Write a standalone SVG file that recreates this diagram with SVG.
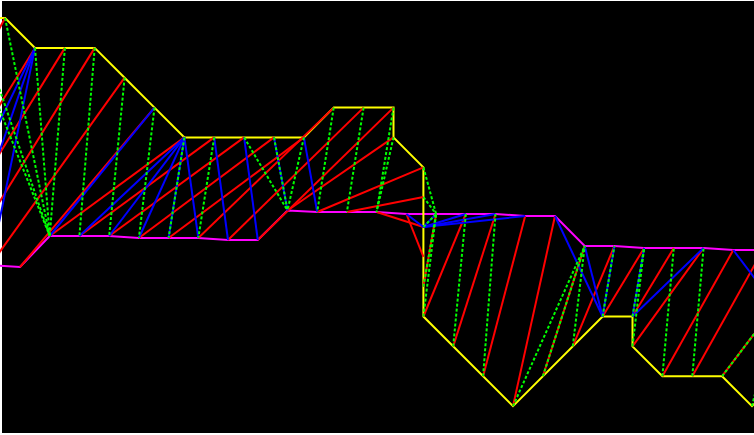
<svg xmlns="http://www.w3.org/2000/svg" width="754" height="435" viewBox="0 0 754 435">
<style>
.y{fill:none;stroke:#ffff00;stroke-width:2}
.m{fill:none;stroke:#ff00ff;stroke-width:2}
.r line{stroke:#ff0000;stroke-width:2}
.b line{stroke:#0000ff;stroke-width:2}
.g line{stroke:#00ff00;stroke-width:2;stroke-dasharray:3 2}
</style>
<rect x="0" y="0" width="754" height="435" fill="#ffffff"/>
<rect x="2" y="1" width="752" height="432" fill="#000000"/>
<g id="profile-lower"><polyline class="m" points="-39.4,265 -9.7,265 20,267 49.7,236 109.2,236 138.9,238 198.3,238 228,240 257.8,240 287.5,210.5 317.2,212 376.6,212 406.4,214 495.5,214 525.2,216 555,216 584.7,246 614.4,246 644.1,248 703.6,248 733.3,250 763,250"/></g>
<g id="profile-upper"><polyline class="y" points="-24.8,18 5.1,18 35,47.9 94.7,47.9 124.6,77.7 154.5,107.6 184.4,137.4 303.9,137.4 333.7,107.6 393.5,107.6 393.5,137.4 423.4,167.3 423.4,316.5 513,406.1 602.6,316.5 632.5,316.5 632.5,346.4 662.4,376.2 722.1,376.2 752,406.1 781.9,376"/></g>
<g id="connectors">
<g class="r">
<line x1="-128.6" y1="265" x2="5.1" y2="18"/>
<line x1="-98.9" y1="265" x2="35" y2="47.9"/>
<line x1="-69.2" y1="265" x2="64.9" y2="47.9"/>
<line x1="-39.4" y1="265" x2="94.7" y2="47.9"/>
<line x1="-9.7" y1="265" x2="124.6" y2="77.7"/>
<line x1="20" y1="267" x2="154.5" y2="107.6"/>
<line x1="49.7" y1="236" x2="184.4" y2="137.4"/>
<line x1="79.4" y1="236" x2="214.2" y2="137.4"/>
<line x1="109.2" y1="236" x2="244.1" y2="137.4"/>
<line x1="138.9" y1="238" x2="274" y2="137.4"/>
<line x1="168.6" y1="238" x2="303.9" y2="137.4"/>
<line x1="198.3" y1="238" x2="333.7" y2="107.6"/>
<line x1="228" y1="240" x2="363.6" y2="107.6"/>
<line x1="257.8" y1="240" x2="393.5" y2="107.6"/>
<line x1="287.5" y1="210.5" x2="393.5" y2="137.4"/>
<line x1="317.2" y1="212" x2="423.4" y2="167.3"/>
<line x1="346.9" y1="212" x2="423.4" y2="197.1"/>
<line x1="376.6" y1="212" x2="423.4" y2="227"/>
<line x1="406.4" y1="214" x2="423.4" y2="256.8"/>
<line x1="436.1" y1="214" x2="423.4" y2="286.7"/>
<line x1="465.8" y1="214" x2="423.4" y2="316.5"/>
<line x1="495.5" y1="214" x2="453.2" y2="346.4"/>
<line x1="525.2" y1="216" x2="483.1" y2="376.2"/>
<line x1="555" y1="216" x2="513" y2="406.1"/>
<line x1="584.7" y1="246" x2="542.9" y2="376.2"/>
<line x1="614.4" y1="246" x2="572.8" y2="346.4"/>
<line x1="644.1" y1="248" x2="602.6" y2="316.5"/>
<line x1="673.8" y1="248" x2="632.5" y2="316.5"/>
<line x1="703.6" y1="248" x2="632.5" y2="346.4"/>
<line x1="733.3" y1="250" x2="662.4" y2="376.2"/>
<line x1="763" y1="250" x2="692.3" y2="376.2"/>
<line x1="792.7" y1="283" x2="722.1" y2="376.2"/>
</g>
<g class="b">
<line x1="35" y1="47.9" x2="-69.2" y2="265"/>
<line x1="35" y1="47.9" x2="-39.4" y2="265"/>
<line x1="35" y1="47.9" x2="-9.7" y2="265"/>
<line x1="154.5" y1="107.6" x2="49.7" y2="236"/>
<line x1="184.4" y1="137.4" x2="79.4" y2="236"/>
<line x1="184.4" y1="137.4" x2="109.2" y2="236"/>
<line x1="184.4" y1="137.4" x2="138.9" y2="238"/>
<line x1="184.4" y1="137.4" x2="168.6" y2="238"/>
<line x1="184.4" y1="137.4" x2="198.3" y2="238"/>
<line x1="214.2" y1="137.4" x2="228" y2="240"/>
<line x1="244.1" y1="137.4" x2="257.8" y2="240"/>
<line x1="274" y1="137.4" x2="287.5" y2="210.5"/>
<line x1="303.9" y1="137.4" x2="317.2" y2="212"/>
<line x1="406.4" y1="214" x2="423.4" y2="227"/>
<line x1="423.4" y1="227" x2="436.1" y2="214"/>
<line x1="423.4" y1="227" x2="465.8" y2="214"/>
<line x1="423.4" y1="227" x2="495.5" y2="214"/>
<line x1="423.4" y1="227" x2="525.2" y2="216"/>
<line x1="555" y1="216" x2="602.6" y2="316.5"/>
<line x1="584.7" y1="246" x2="602.6" y2="316.5"/>
<line x1="614.4" y1="246" x2="602.6" y2="316.5"/>
<line x1="632.5" y1="316.5" x2="644.1" y2="248"/>
<line x1="632.5" y1="316.5" x2="703.6" y2="248"/>
<line x1="733.3" y1="250" x2="768" y2="296"/>
</g>
<g class="g">
<line x1="-24.8" y1="18" x2="49.7" y2="236"/>
<line x1="-24.8" y1="47.9" x2="49.7" y2="236"/>
<line x1="5.1" y1="18" x2="49.7" y2="236"/>
<line x1="35" y1="47.9" x2="49.7" y2="236"/>
<line x1="64.9" y1="47.9" x2="49.7" y2="236"/>
<line x1="94.7" y1="47.9" x2="79.4" y2="236"/>
<line x1="124.6" y1="77.7" x2="109.2" y2="236"/>
<line x1="154.5" y1="107.6" x2="138.9" y2="238"/>
<line x1="184.4" y1="137.4" x2="168.6" y2="238"/>
<line x1="214.2" y1="137.4" x2="198.3" y2="238"/>
<line x1="244.1" y1="137.4" x2="287.5" y2="210.5"/>
<line x1="274" y1="137.4" x2="287.5" y2="210.5"/>
<line x1="303.9" y1="137.4" x2="287.5" y2="210.5"/>
<line x1="333.7" y1="107.6" x2="317.2" y2="212"/>
<line x1="363.6" y1="107.6" x2="346.9" y2="212"/>
<line x1="393.5" y1="107.6" x2="376.6" y2="212"/>
<line x1="393.5" y1="137.4" x2="376.6" y2="212"/>
<line x1="423.4" y1="167.3" x2="436.1" y2="214"/>
<line x1="423.4" y1="197.1" x2="436.1" y2="214"/>
<line x1="423.4" y1="227" x2="436.1" y2="214"/>
<line x1="423.4" y1="286.7" x2="436.1" y2="214"/>
<line x1="423.4" y1="316.5" x2="436.1" y2="214"/>
<line x1="453.2" y1="346.4" x2="465.8" y2="214"/>
<line x1="483.1" y1="376.2" x2="495.5" y2="214"/>
<line x1="513" y1="406.1" x2="584.7" y2="246"/>
<line x1="542.9" y1="376.2" x2="584.7" y2="246"/>
<line x1="572.8" y1="346.4" x2="584.7" y2="246"/>
<line x1="602.6" y1="316.5" x2="614.4" y2="246"/>
<line x1="632.5" y1="316.5" x2="644.1" y2="248"/>
<line x1="632.5" y1="346.4" x2="644.1" y2="248"/>
<line x1="662.4" y1="376.2" x2="673.8" y2="248"/>
<line x1="692.3" y1="376.2" x2="703.6" y2="248"/>
<line x1="722.1" y1="376.2" x2="792.7" y2="283"/>
<line x1="752" y1="406.1" x2="782" y2="283"/>
</g>
</g>
</svg>
